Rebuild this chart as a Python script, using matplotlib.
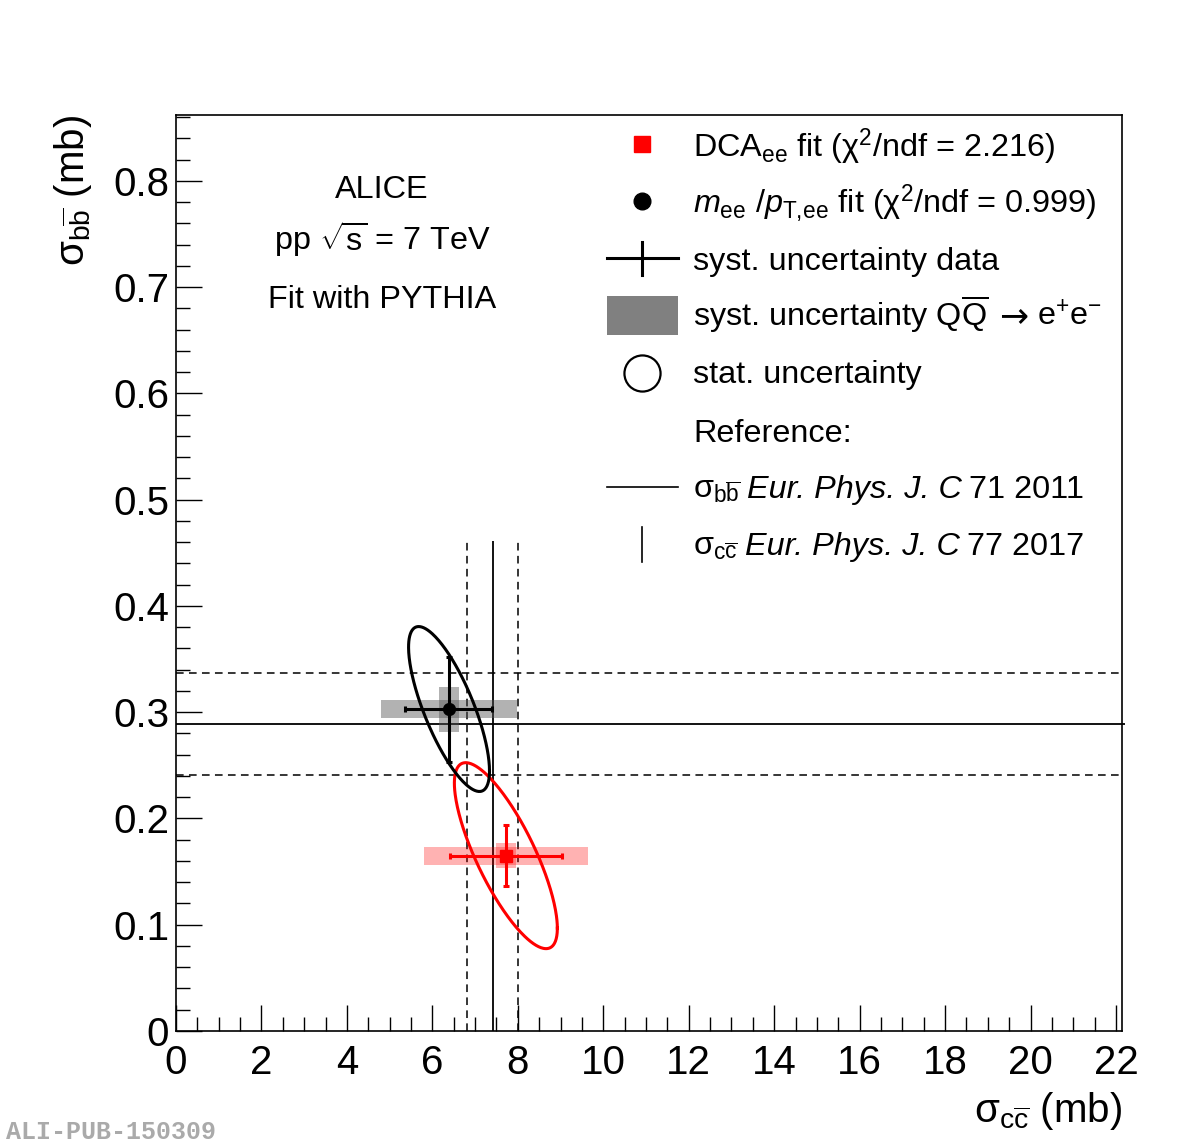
import matplotlib
matplotlib.use("Agg")
import matplotlib.pyplot as plt
import numpy as np
from matplotlib.lines import Line2D
from matplotlib.patches import Rectangle
from matplotlib.ticker import MultipleLocator, FuncFormatter

plt.rcParams["font.family"] = ["Liberation Sans", "DejaVu Sans"]
plt.rcParams["mathtext.fontset"] = "custom"
plt.rcParams["mathtext.rm"] = "Liberation Sans"
plt.rcParams["mathtext.it"] = "Liberation Sans:italic"
plt.rcParams["mathtext.bf"] = "Liberation Sans:bold"
plt.rcParams["mathtext.sf"] = "Liberation Sans"

# fit results, sigma_cc (mb) vs sigma_bb (mb)
fit_names = ["DCA", "mee_ptee"]
fit_colors = ["red", "black"]
fit_markers = ["s", "o"]
fit_cc = [7.72, 6.39]
fit_bb = [0.165, 0.303]
syst_data_cc = [(6.41, 9.03), (5.36, 7.39)]
syst_data_bb = [(0.136, 0.194), (0.253, 0.352)]
syst_qq_cc = [(5.80, 9.64), (4.80, 7.98)]
syst_qq_bb = [(0.153, 0.177), (0.281, 0.324)]
# stat. uncertainty contours: half-extent in cc, half-extent in bb, correlation
stat_sig_cc = [1.205, 0.947]
stat_sig_bb = [0.0875, 0.0776]
stat_rho = [-0.78, -0.75]

# reference measurements
ref_bb = 0.289
ref_bb_band = (0.241, 0.337)
ref_cc = 7.42
ref_cc_band = (6.81, 8.00)
ref_cc_top = 0.461

W, H = 1182, 1146
fig = plt.figure(figsize=(W / 100, H / 100), dpi=100)
ax = fig.add_axes([176 / W, 1 - 1031 / H, (1122 - 176) / W, (1031 - 115) / H])
ax.set_xlim(0, 22.14)
ax.set_ylim(0, 0.862)

dash = (0, (5, 3.5))
ax.hlines(ref_bb, 0, 22.2, color="black", lw=1.3, clip_on=False, zorder=2)
ax.hlines(ref_bb_band, 0, 22.14, color="black", lw=1.1, linestyles=[dash], zorder=2)
ax.vlines(ref_cc, 0, ref_cc_top, color="black", lw=1.3, zorder=2)
ax.vlines(ref_cc_band, 0, ref_cc_top, color="black", lw=1.1, linestyles=[dash], zorder=2)

box_hw_bb = 0.0085   # half thickness of horizontal syst box
box_hw_cc = 0.23     # half width of vertical syst box
box_colors = ["red", "#555555"]
box_alpha = [0.3, 0.45]
for i in range(len(fit_names)):
    c = fit_colors[i]
    # syst. uncertainty QQbar -> ee as boxes
    x0, x1 = syst_qq_cc[i]
    ax.add_patch(Rectangle((x0, fit_bb[i] - box_hw_bb), x1 - x0, 2 * box_hw_bb,
                           facecolor=box_colors[i], alpha=box_alpha[i], lw=0, zorder=3))
    y0, y1 = syst_qq_bb[i]
    ax.add_patch(Rectangle((fit_cc[i] - box_hw_cc, y0), 2 * box_hw_cc, y1 - y0,
                           facecolor=box_colors[i], alpha=box_alpha[i], lw=0, zorder=3))
    # stat. uncertainty contour
    t = np.linspace(0, 2 * np.pi, 300)
    r = stat_rho[i]
    ex = fit_cc[i] + stat_sig_cc[i] * np.cos(t)
    ey = fit_bb[i] + stat_sig_bb[i] * (r * np.cos(t) + np.sqrt(1 - r * r) * np.sin(t))
    ax.plot(ex, ey, color=c, lw=2.2, zorder=4)
    # syst. uncertainty data
    xe = [[fit_cc[i] - syst_data_cc[i][0]], [syst_data_cc[i][1] - fit_cc[i]]]
    ye = [[fit_bb[i] - syst_data_bb[i][0]], [syst_data_bb[i][1] - fit_bb[i]]]
    ax.errorbar([fit_cc[i]], [fit_bb[i]], xerr=xe, yerr=ye, fmt=fit_markers[i],
                color=c, ms=8.5, elinewidth=2.2, capsize=2.5, capthick=2.2, zorder=5)

ax.xaxis.set_major_locator(MultipleLocator(2))
ax.xaxis.set_minor_locator(MultipleLocator(0.5))
ax.yaxis.set_major_locator(MultipleLocator(0.1))
ax.yaxis.set_minor_locator(MultipleLocator(0.02))
ax.yaxis.set_major_formatter(FuncFormatter(lambda v, p: f"{round(v, 2):g}"))
ax.tick_params(which="both", direction="in", top=False, right=False, width=1.0,
               labelsize=29)
ax.tick_params(which="major", length=19)
ax.tick_params(which="minor", length=10)
ax.tick_params(axis="x", pad=9)
ax.tick_params(axis="y", pad=5)
for s in ax.spines.values():
    s.set_linewidth(1.2)


def fx(px):
    return px / W


def fy(py):
    return 1 - py / H


renderer = fig.canvas.get_renderer()


def rich(x_px, base_px, pieces, fs):
    # pieces: list of (text, kwargs) or a number = gap in px
    x = x_px
    for p in pieces:
        if isinstance(p, (int, float)):
            x += p
            continue
        s, kw = p
        kw = dict(kw)
        size = kw.pop("size", fs)
        t = fig.text(fx(x), fy(base_px), s, ha="left", va="baseline", fontsize=size, **kw)
        x += t.get_window_extent(renderer).width


# axis titles
fig.text(fx(1122), fy(1122), r"σ$_{\mathrm{c}\overline{\mathrm{c}}}$ (mb)",
         ha="right", va="baseline", fontsize=29)
fig.text(fx(84), fy(115), r"σ$_{\mathrm{b}\overline{\mathrm{b}}}$ (mb)",
         ha="right", va="baseline", rotation=90, rotation_mode="anchor", fontsize=29)

# left labels
fs = 23.3
fig.text(fx(382), fy(198), "ALICE", ha="center", va="baseline", fontsize=fs)
fig.text(fx(382), fy(250), r"pp $\sqrt{\mathrm{s}}$ = 7 TeV", ha="center",
         va="baseline", fontsize=fs)
fig.text(fx(382), fy(308), "Fit with PYTHIA", ha="center", va="baseline", fontsize=fs)

# legend
tx = 693
mx = fx(642)
sp = 7
ital = {"style": "italic"}
arrow = {"family": ["DejaVu Sans"], "size": 25}
legend_rows = [
    [(r"DCA$_{\mathrm{ee}}$ fit (χ$^{2}$/ndf = 2.216)", {})],
    [(r"$m_{\mathrm{ee}}$ /$p_{\mathrm{T,\!ee}}$ fit (χ$^{2}$/ndf = 0.999)", {})],
    [("syst. uncertainty data", {})],
    [(r"syst. uncertainty Q$\overline{\mathrm{Q}}$", {}), 11, ("→", arrow), 9,
     (r"e$^{+}$e$^{-}$", {})],
    [("stat. uncertainty", {})],
    [("Reference:", {})],
    [(r"σ$_{\mathrm{b}\overline{\mathrm{b}}}$", {}), sp, ("Eur. Phys. J. C", ital), sp,
     ("71 2011", {})],
    [(r"σ$_{\mathrm{c}\overline{\mathrm{c}}}$", {}), sp, ("Eur. Phys. J. C", ital), sp,
     ("77 2017", {})],
]
legend_base = [157, 213, 270, 326, 383, 442, 498, 555]
for row, b in zip(legend_rows, legend_base):
    rich(tx, b, row, fs)

fig.add_artist(Line2D([mx], [fy(144)], marker="s", ms=11, color="red", lw=0,
                      transform=fig.transFigure))
fig.add_artist(Line2D([mx], [fy(201)], marker="o", ms=12, color="black", lw=0,
                      transform=fig.transFigure))
fig.add_artist(Line2D([fx(607), fx(678)], [fy(258), fy(258)], color="black", lw=2.2,
                      transform=fig.transFigure))
fig.add_artist(Line2D([mx, mx], [fy(242), fy(275)], color="black", lw=2.2,
                      transform=fig.transFigure))
fig.add_artist(Rectangle((fx(607), fy(335)), fx(71), (335 - 296) / H, facecolor="#808080",
                         lw=0, transform=fig.transFigure))
fig.add_artist(Line2D([mx], [fy(373)], marker="o", ms=26, mfc="none", mec="black",
                      mew=1.6, lw=0, transform=fig.transFigure))
fig.add_artist(Line2D([fx(607), fx(678)], [fy(487), fy(487)], color="black", lw=1.2,
                      transform=fig.transFigure))
fig.add_artist(Line2D([mx, mx], [fy(527), fy(562)], color="black", lw=1.2,
                      transform=fig.transFigure))

fig.text(fx(6), fy(1139), "ALI-PUB-150309", ha="left", va="baseline", fontsize=18,
         family=["Liberation Mono", "DejaVu Sans Mono"], weight="bold", color="#aaaaaa")

fig.savefig("out.png", dpi=100)
